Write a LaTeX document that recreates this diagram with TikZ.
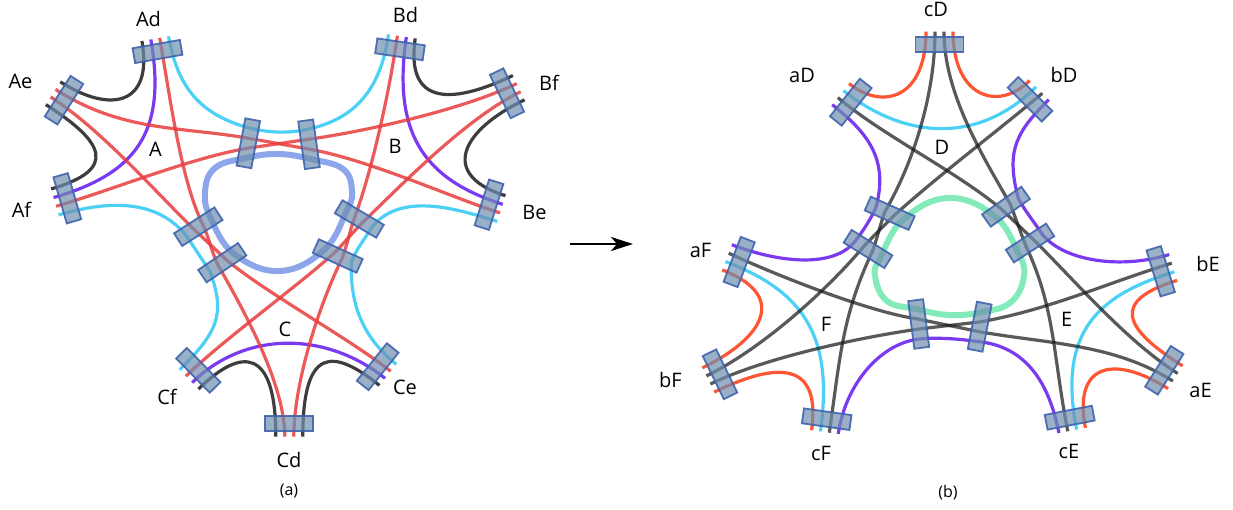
\documentclass[tikz,border=0pt]{standalone}
\usepackage{fontspec}
\setmainfont{Open Sans}
\usetikzlibrary{calc,arrows.meta}
\pgfdeclarelayer{wires}
\pgfsetlayers{wires,main}

\definecolor{cred}{HTML}{E83C3C}
\definecolor{ccyan}{HTML}{4DD0F5}
\definecolor{cpurple}{HTML}{7B3AF0}
\definecolor{corange}{HTML}{FF5533}
\definecolor{cblue}{HTML}{8CA5EB}
\definecolor{cgreen}{HTML}{82EBB9}
\definecolor{boxfill}{HTML}{6E8FAF}
\definecolor{boxedge}{HTML}{3F63AD}

\tikzset{
  pbox/.style={shape=rectangle, draw=boxedge, line width=1.8pt, fill=boxfill,
    fill opacity=.7, draw opacity=.9, minimum width=48pt, minimum height=15pt, inner sep=0pt},
  wire/.style={line width=3.2pt},
  rd/.style={wire, draw=cred, draw opacity=.85},
  cy/.style={wire, draw=ccyan},
  pu/.style={wire, draw=cpurple},
  bk/.style={wire, draw=black!80, draw opacity=.95},
  gk/.style={wire, draw=black!90, draw opacity=.72},
  og/.style={wire, draw=corange},
  loopA/.style={line width=6pt, draw=cblue},
  loopB/.style={line width=6pt, draw=cgreen},
  lbl/.style={font=\fontsize{20}{24}\selectfont, inner sep=0pt},
  panellbl/.style={font=\fontsize{16}{19}\selectfont, inner sep=0pt},
}

% port on the rim: box plus four lane tips sticking out on the outer side
% #1 name, #2 x, #3 y, #4 direction of the long side, #5 direction into the figure
\newcommand\outerport[5]{%
  \node[pbox, rotate={-(#4)}] (#1) at (#2,#3) {};
  \foreach \k in {1,2,3,4}{%
    \coordinate (#1-\k) at ($(#2,#3)+(#4:{(\k-2.5)*9})-(#5:13)$);
  }%
}
% box that the wires pass through: four lane points on its middle line
\newcommand\innerport[4]{%
  \node[pbox, rotate={-(#4)}] (#1) at (#2,#3) {};
  \foreach \k in {1,2,3,4}{%
    \coordinate (#1-\k) at ($(#2,#3)+(#4:{(\k-2.5)*10})$);
  }%
}

\begin{document}
\begin{tikzpicture}[x=1pt,y=-1pt]
\useasboundingbox (0,0) rectangle (1233,510);

% ---------------- (a) ----------------
\outerport{Ad}{157.5}{51.5}{-10}{80}
\outerport{Ae}{64}{100.2}{122.5}{32.5}
\outerport{Af}{67.3}{198.3}{73.8}{-16.2}
\outerport{Bd}{400}{49.3}{8.3}{98.3}
\outerport{Bf}{507}{93.3}{64.4}{154.4}
\outerport{Be}{489}{204.7}{107.5}{197.5}
\outerport{Cf}{198.3}{370.3}{45.6}{-44.4}
\outerport{Ce}{377.7}{366.7}{128.7}{218.7}
\outerport{Cd}{289.3}{423.7}{0}{-90}

\innerport{T1}{248.3}{143.3}{100.5}
\innerport{T2}{309}{144.3}{82}
\innerport{L1}{198.3}{226.7}{-32.7}
\innerport{L2}{222.3}{262.7}{-34}
\innerport{R1}{359.3}{219}{210.7}
\innerport{R2}{337.7}{256}{204.3}

% ---------------- (b) ----------------
\outerport{cD}{939.5}{44.7}{0}{90}
\outerport{aD}{850.8}{102.2}{128.5}{38.5}
\outerport{bD}{1030}{99.3}{45}{135}
\outerport{aF}{739.2}{262}{111}{21}
\outerport{bF}{720}{374.3}{64}{-26}
\outerport{cF}{826.7}{419.2}{8}{-82}
\outerport{bE}{1160.7}{271.3}{73}{163}
\outerport{aE}{1164.3}{370.3}{122.3}{212.3}
\outerport{cE}{1069.7}{417.7}{-11}{-101}

\innerport{UL1}{889.7}{213.3}{24}
\innerport{UL2}{868}{249}{32}
\innerport{UR1}{1006}{206.7}{144.8}
\innerport{UR2}{1030}{243}{147}
\innerport{B1}{918.7}{324}{-97.3}
\innerport{B2}{979.7}{326.7}{-79}

\begin{pgfonlayer}{wires}
% inner loops
\draw[loopA] plot[smooth cycle, tension=0.7] coordinates {(T1-4) (278,154) (T2-4) (343,169) (352,191)
  (R1-4) (R2-4) (280,271) (L2-4) (L1-4) (205,192) (215,168)};
\draw[loopB] plot[smooth cycle, tension=0.7] coordinates {(948,198) (UR1-4) (UR2-4) (1024,276) (1011,302)
  (B2-4) (949,315) (B1-4) (887,301) (875,276) (UL2-4) (UL1-4)};

% (a) short arcs inside each group
\draw[bk] (Ad-1) .. controls +(80:65) and +(32.5:60) .. (Ae-1);
\draw[bk] (Ae-4) .. controls +(32.5:70) and +(-16.2:70) .. (Af-1);
\draw[pu] (Ad-2) .. controls +(80:95) and +(-16.2:85) .. (Af-2);
\draw[bk] (Bd-4) .. controls +(98.3:70) and +(154.4:65) .. (Bf-1);
\draw[bk] (Bf-4) .. controls +(154.4:70) and +(197.5:70) .. (Be-1);
\draw[pu] (Bd-3) .. controls +(98.3:95) and +(197.5:85) .. (Be-2);
\draw[bk] (Cf-4) .. controls +(-44.4:60) and +(-90:90) .. (Cd-1);
\draw[bk] (Ce-4) .. controls +(218.7:60) and +(-90:90) .. (Cd-4);
\draw[pu] (Cf-3) .. controls +(-44.4:75) and +(218.7:75) .. (Ce-3);

% (a) cyan wires through the box pairs
\draw[cy] (Ad-4) .. controls +(80:55) and +(195:50) .. (T1-1)
  .. controls +(12:20) and +(168:20) .. (T2-1)
  .. controls +(-12:50) and +(98.3:55) .. (Bd-1);
\draw[cy] (Af-4) .. controls +(-16.2:55) and +(230:45) .. (L1-1)
  .. controls +(56:15) and +(236:15) .. (L2-1)
  .. controls +(70:45) and +(-44.4:55) .. (Cf-1);
\draw[cy] (Be-4) .. controls +(197.5:45) and +(310:45) .. (R1-1)
  .. controls +(120:15) and +(290:15) .. (R2-1)
  .. controls +(92:40) and +(218.7:45) .. (Ce-1);

% (a) red wires
\draw[rd] (Ae-2) .. controls +(32.5:80) and +(190:70) .. (T1-2)
  .. controls +(10:20) and +(190:20) .. (T2-3)
  .. controls +(10:60) and +(197.5:50) .. (Be-3);
\draw[rd] (Af-3) .. controls +(-16.2:60) and +(170:60) .. (T1-3)
  .. controls +(-8:20) and +(172:20) .. (T2-2)
  .. controls +(-8:60) and +(154.4:60) .. (Bf-2);
\draw[rd] (Ae-3) .. controls +(32.5:60) and +(224:50) .. (L1-2)
  .. controls +(44:15) and +(224:15) .. (L2-3)
  .. controls +(40:50) and +(218.7:50) .. (Ce-2);
\draw[rd] (Bf-3) .. controls +(154.4:60) and +(316:50) .. (R1-2)
  .. controls +(136:15) and +(316:15) .. (R2-3)
  .. controls +(138:50) and +(-44.4:50) .. (Cf-2);
\draw[rd] (Ad-3) .. controls +(80:60) and +(244:50) .. (L1-3)
  .. controls +(64:15) and +(244:15) .. (L2-2)
  .. controls +(60:60) and +(-90:50) .. (Cd-2);
\draw[rd] (Bd-2) .. controls +(98.3:60) and +(290:50) .. (R1-3)
  .. controls +(110:15) and +(290:15) .. (R2-2)
  .. controls +(116:60) and +(-90:50) .. (Cd-3);

% (b) orange arcs
\draw[og] (cD-1) .. controls +(90:65) and +(38.5:45) .. (aD-1);
\draw[og] (cD-4) .. controls +(90:65) and +(135:45) .. (bD-1);
\draw[og] (aF-4) .. controls +(21:70) and +(-26:70) .. (bF-1);
\draw[og] (bF-4) .. controls +(-26:70) and +(-82:70) .. (cF-1);
\draw[og] (bE-4) .. controls +(163:70) and +(212.3:70) .. (aE-1);
\draw[og] (aE-4) .. controls +(212.3:65) and +(-101:65) .. (cE-4);

% (b) cyan arcs
\draw[cy] (aD-2) .. controls +(38.5:80) and +(135:80) .. (bD-2);
\draw[cy] (aF-3) .. controls +(21:80) and +(-82:100) .. (cF-2);
\draw[cy] (bE-3) .. controls +(163:80) and +(-101:100) .. (cE-3);

% (b) purple wires along the outer ends of the box pairs
\draw[pu] (aD-4) .. controls +(38.5:45) and +(285:50) .. (UL1-1)
  .. controls +(113:12) and +(308:12) .. (UL2-1)
  .. controls +(128:35) and +(21:50) .. (aF-1);
\draw[pu] (bD-4) .. controls +(135:45) and +(255:50) .. (UR1-1)
  .. controls +(65:12) and +(238:12) .. (UR2-1)
  .. controls +(50:35) and +(163:50) .. (bE-1);
\draw[pu] (cF-4) .. controls +(-82:50) and +(175:40) .. (B1-1)
  .. controls +(-5:18) and +(188:18) .. (B2-1)
  .. controls +(5:50) and +(-101:50) .. (cE-1);

% (b) long grey wires
\draw[gk] (cD-2) .. controls +(90:60) and +(300:60) .. (UL1-2)
  .. controls +(112:12) and +(292:12) .. (UL2-3)
  .. controls +(115:70) and +(-82:80) .. (cF-3);
\draw[gk] (cD-3) .. controls +(90:60) and +(240:60) .. (UR1-2)
  .. controls +(68:12) and +(248:12) .. (UR2-3)
  .. controls +(65:70) and +(-101:80) .. (cE-2);
\draw[gk] (bD-3) .. controls +(140:60) and +(318:60) .. (UL1-3)
  .. controls +(135:12) and +(313:12) .. (UL2-2)
  .. controls +(130:60) and +(-26:60) .. (bF-2);
\draw[gk] (aD-3) .. controls +(40:60) and +(220:60) .. (UR1-3)
  .. controls +(43:12) and +(223:12) .. (UR2-2)
  .. controls +(45:60) and +(212.3:60) .. (aE-2);
\draw[gk] (aF-2) .. controls +(25:50) and +(188:50) .. (B1-3)
  .. controls +(12:15) and +(192:15) .. (B2-2)
  .. controls +(10:70) and +(212.3:70) .. (aE-3);
\draw[gk] (bF-3) .. controls +(-26:60) and +(172:60) .. (B1-2)
  .. controls +(-7:15) and +(173:15) .. (B2-3)
  .. controls +(-10:70) and +(163:70) .. (bE-2);
\end{pgfonlayer}

% labels (a)
\node[lbl] (tAd) at (148.5,19) {Ad};
\node[lbl] (tAe) at (20.5,81) {Ae};
\node[lbl] (tAf) at (21.5,209.5) {Af};
\node[lbl] (tA)  at (155.5,149) {A};
\node[lbl] (tBd) at (405.5,15) {Bd};
\node[lbl] (tBf) at (549,83) {Bf};
\node[lbl] (tB)  at (395,146.5) {B};
\node[lbl] (tBe) at (534.5,212) {Be};
\node[lbl] (tCf) at (167,396.5) {Cf};
\node[lbl] (tC)  at (285,329) {C};
\node[lbl] (tCe) at (405,387.5) {Ce};
\node[lbl] (tCd) at (289,460) {Cd};
\node[panellbl] (ta)  at (289,491.5) {(a)};

% labels (b)
\node[lbl] (tcD) at (936,9) {cD};
\node[lbl] (taD) at (802,75) {aD};
\node[lbl] (tbD) at (1064,75) {bD};
\node[lbl] (tD)  at (942,147.5) {D};
\node[lbl] (taF) at (700.5,250) {aF};
\node[lbl] (tbF) at (670.5,380) {bF};
\node[lbl] (tF)  at (826,324) {F};
\node[lbl] (tcF) at (821,453) {cF};
\node[lbl] (tbE) at (1208,264) {bE};
\node[lbl] (taE) at (1200.5,390) {aE};
\node[lbl] (tE)  at (1066.7,319) {E};
\node[lbl] (tcE) at (1069,451) {cE};
\node[panellbl] (tb)  at (948,492.5) {(b)};

% arrow between the two panels
\coordinate (arS) at (570,244);
\coordinate (arE) at (633,244);
\draw[line width=2.5pt, -{Stealth[length=22pt, width=14pt, inset=6pt]}] (arS) -- (arE);
\end{tikzpicture}
\end{document}
